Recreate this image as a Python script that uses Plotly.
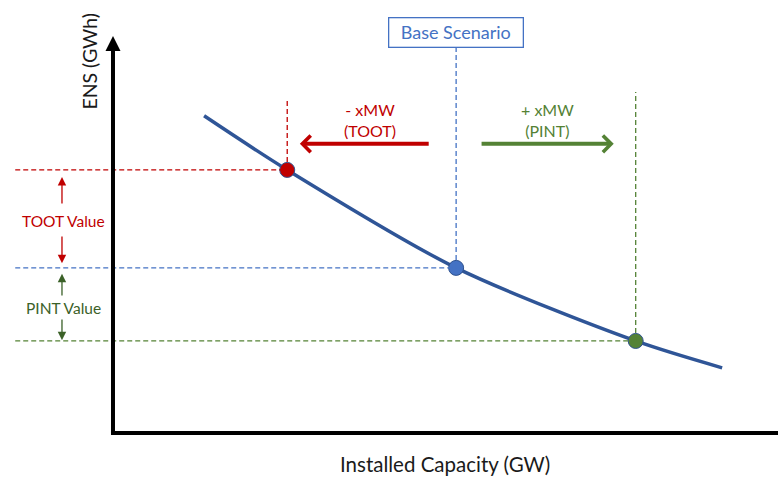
import plotly.graph_objects as go

# ---- data (abstract units: capacity vs. energy not served) ----
curve_x = [1.37, 2.62, 5.16, 7.86, 9.16]
curve_y = [8.03, 6.66, 4.18, 2.33, 1.65]

point_names = ["TOOT", "Base", "PINT"]
point_x = [2.62, 5.16, 7.86]
point_y = [6.66, 4.18, 2.33]
point_fill = ["#C00000", "#4472C4", "#548235"]
guide_colors = ["#C00000", "#4472C4", "#548235"]
guide_top = [8.43, 9.77, 8.63]
guide_left = -1.47

x_title = "Installed Capacity (GW)"
y_title = "ENS (GWh)"

XR = [-1.699, 10.0]
YR = [-1.114, 10.962]

fig = go.Figure()

# dashed guides
shapes = []
for px, py, c, top in zip(point_x, point_y, guide_colors, guide_top):
    shapes.append(dict(type="line", xref="x", yref="y", x0=guide_left, x1=px, y0=py, y1=py,
                       line=dict(color=c, width=1.3, dash="5px,3px")))
    shapes.append(dict(type="line", xref="x", yref="y", x0=px, x1=px, y0=py, y1=top,
                       line=dict(color=c, width=1.3, dash="5px,3px")))
# x axis line
shapes.append(dict(type="line", xref="x", yref="y", x0=-0.03, x1=XR[1], y0=0, y1=0,
                   line=dict(color="black", width=4)))

fig.add_trace(go.Scatter(x=curve_x, y=curve_y, mode="lines",
                         line=dict(color="#2F5597", width=3.5, shape="spline", smoothing=0.8),
                         hoverinfo="skip"))
fig.add_trace(go.Scatter(x=point_x, y=point_y, mode="markers", text=point_names,
                         marker=dict(size=15, color=point_fill,
                                     line=dict(color="#2F528F", width=1))))

font = "Lato, 'Open Sans', sans-serif"
ann = []
# y axis with arrow
ann.append(dict(x=0, y=10.05, ax=0, ay=-0.05, xref="x", yref="y", axref="x", ayref="y",
                text="", showarrow=True, arrowhead=2, arrowsize=0.75, arrowwidth=4,
                arrowcolor="black"))
# axis titles
ann.append(dict(x=5.0, y=-0.79, xref="x", yref="y", text=x_title, showarrow=False,
                font=dict(family=font, size=20.5, color="#1a1a1a")))
ann.append(dict(x=-0.35, y=9.42, xref="x", yref="y", text=y_title, showarrow=False, textangle=-90,
                font=dict(family=font, size=19.5, color="#1a1a1a")))
# Base scenario box
ann.append(dict(x=5.16, y=10.15, xref="x", yref="y", text="Base Scenario", showarrow=False,
                font=dict(family=font, size=18, color="#4472C4"),
                bordercolor="#4472C4", borderwidth=1.3, borderpad=3, bgcolor="white",
                width=127, height=22))
# big arrows
ann.append(dict(x=2.81, y=7.32, ax=4.77, ay=7.32, xref="x", yref="y", axref="x", ayref="y",
                text="", showarrow=True, arrowhead=4, arrowsize=0.8, arrowwidth=4,
                arrowcolor="#C00000"))
ann.append(dict(x=7.53, y=7.32, ax=5.52, ay=7.32, xref="x", yref="y", axref="x", ayref="y",
                text="", showarrow=True, arrowhead=4, arrowsize=0.8, arrowwidth=4,
                arrowcolor="#548235"))
ann.append(dict(x=3.86, y=7.92, xref="x", yref="y", text="- xMW<br>(TOOT)", showarrow=False,
                font=dict(family=font, size=16, color="#C00000")))
ann.append(dict(x=6.54, y=7.92, xref="x", yref="y", text="+ xMW<br>(PINT)", showarrow=False,
                font=dict(family=font, size=16, color="#548235")))
# left value labels
ann.append(dict(x=-0.75, y=5.37, xref="x", yref="y", text="TOOT Value", showarrow=False,
                font=dict(family=font, size=15.5, color="#C00000")))
ann.append(dict(x=-0.75, y=3.16, xref="x", yref="y", text="PINT Value", showarrow=False,
                font=dict(family=font, size=15.5, color="#3B6128")))
for tail, tip, c in [(5.77, 6.48, "#C00000"), (5.01, 4.30, "#C00000"),
                     (3.44, 4.03, "#3B6128"), (2.91, 2.35, "#3B6128")]:
    ann.append(dict(x=-0.767, y=tip, ax=-0.767, ay=tail, xref="x", yref="y", axref="x", ayref="y",
                    text="", showarrow=True, arrowhead=2, arrowsize=1.3, arrowwidth=1.3,
                    arrowcolor=c))

fig.update_layout(
    width=778, height=477, margin=dict(l=0, r=0, t=0, b=0),
    paper_bgcolor="white", plot_bgcolor="white", showlegend=False,
    xaxis=dict(range=XR, visible=False, fixedrange=True),
    yaxis=dict(range=YR, visible=False, fixedrange=True),
    shapes=shapes, annotations=ann,
)
fig.write_html("out.html", post_script="document.body.style.margin='0';",
               config={"displayModeBar": False})
